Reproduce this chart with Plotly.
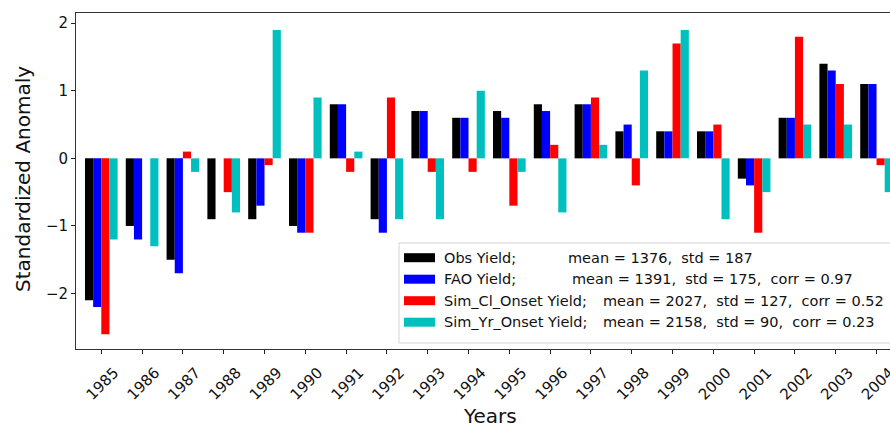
import plotly.graph_objects as go

# Standardized yield anomalies, 1985-2004
years = list(range(1985, 2005))
obs_yield = [-2.1, -1.0, -1.5, -0.9, -0.9, -1.0, 0.8, -0.9, 0.7, 0.6,
             0.7, 0.8, 0.8, 0.4, 0.4, 0.4, -0.3, 0.6, 1.4, 1.1]
fao_yield = [-2.2, -1.2, -1.7, 0.0, -0.7, -1.1, 0.8, -1.1, 0.7, 0.6,
             0.6, 0.7, 0.8, 0.5, 0.4, 0.4, -0.4, 0.6, 1.3, 1.1]
sim_cl_onset = [-2.6, 0.0, 0.1, -0.5, -0.1, -1.1, -0.2, 0.9, -0.2, -0.2,
                -0.7, 0.2, 0.9, -0.4, 1.7, 0.5, -1.1, 1.8, 1.1, -0.1]
sim_yr_onset = [-1.2, -1.3, -0.2, -0.8, 1.9, 0.9, 0.1, -0.9, -0.9, 1.0,
                -0.2, -0.8, 0.2, 1.3, 1.9, -0.9, -0.5, 0.5, 0.5, -0.5]

series_names = ["Obs Yield;", "FAO Yield;", "Sim_Cl_Onset Yield;", "Sim_Yr_Onset Yield;"]
series_stats = ["mean = 1376,  std = 187",
                "mean = 1391,  std = 175,  corr = 0.97",
                "mean = 2027,  std = 127,  corr = 0.52",
                "mean = 2158,  std = 90,  corr = 0.23"]
series_values = [obs_yield, fao_yield, sim_cl_onset, sim_yr_onset]
colors = ["#000000", "#0000ff", "#ff0000", "#00bfbf"]

y_ticks = [-2, -1, 0, 1, 2]
y_ticktext = ["\u22122", "\u22121", "0", "1", "2"]

FONT = "DejaVu Sans"
W, H = 890, 428
ML, MR, MT, MB = 76, 0, 13, 79
PW, PH = W - ML - MR, H - MT - MB


def px_x(p):
    return (p - ML) / PW


def px_y(p):
    return (H - MB - p) / PH


fig = go.Figure()
for name, vals, col in zip(series_names, series_values, colors):
    fig.add_trace(go.Bar(x=years, y=vals, name=name, marker=dict(color=col, line=dict(width=0)),
                         showlegend=False))

# hand-built legend box in the lower right
shapes = [dict(type="rect", xref="paper", yref="paper",
               x0=px_x(399), x1=px_x(902), y0=px_y(343), y1=px_y(243),
               line=dict(color="#d4d4d4", width=1), fillcolor="rgba(255,255,255,0.85)", layer="above")]
annotations = []
row0, pitch = 257.7, 21.5
stats_x = [566, 570, 601, 601]
for i, (name, stats, col) in enumerate(zip(series_names, series_stats, colors)):
    cy = row0 + i * pitch
    shapes.append(dict(type="rect", xref="paper", yref="paper",
                       x0=px_x(404), x1=px_x(435), y0=px_y(cy + 4.5), y1=px_y(cy - 4.5),
                       line=dict(width=0), fillcolor=col, layer="above"))
    annotations.append(dict(xref="paper", yref="paper", x=px_x(442), y=px_y(cy),
                            xanchor="left", yanchor="middle", showarrow=False,
                            text=name, font=dict(family=FONT, size=14.5, color="#111")))
    annotations.append(dict(xref="paper", yref="paper", x=px_x(stats_x[i]), y=px_y(cy),
                            xanchor="left", yanchor="middle", showarrow=False,
                            text=stats.replace(" ", "\u00a0"),
                            font=dict(family=FONT, size=14.5, color="#111")))

# axis titles
annotations.append(dict(xref="paper", yref="paper", x=px_x(490), y=px_y(416),
                        xanchor="center", yanchor="middle", showarrow=False,
                        text="Years", font=dict(family=FONT, size=20, color="#111")))
annotations.append(dict(xref="paper", yref="paper", x=px_x(23), y=px_y(179),
                        xanchor="center", yanchor="middle", showarrow=False, textangle=-90,
                        text="Standardized Anomaly", font=dict(family=FONT, size=20, color="#111")))

fig.update_layout(
    width=W, height=H,
    margin=dict(l=ML, r=MR, t=MT, b=MB, autoexpand=False),
    paper_bgcolor="white", plot_bgcolor="white",
    barmode="group", bargap=0.2, bargroupgap=0,
    shapes=shapes, annotations=annotations,
    font=dict(family=FONT, size=15, color="#111"),
)
fig.update_xaxes(
    range=[1984.38, 2004.33], tickvals=years, ticktext=[str(y) for y in years],
    tickangle=-45, ticks="outside", ticklen=4, tickcolor="#222",
    ticklabelshift=13, ticklabelstandoff=4, ticklabeloverflow="allow",
    showline=True, linecolor="#333", linewidth=1, mirror=True,
    showgrid=False, zeroline=False, tickfont=dict(family=FONT, size=15, color="#111"),
)
fig.update_yaxes(
    range=[-2.82, 2.15], tickvals=y_ticks, ticktext=y_ticktext,
    ticks="outside", ticklen=4, tickcolor="#222",
    showline=True, linecolor="#333", linewidth=1, mirror=False,
    showgrid=False, zeroline=False, tickfont=dict(family=FONT, size=15, color="#111"),
)

fig.write_html("out.html")
